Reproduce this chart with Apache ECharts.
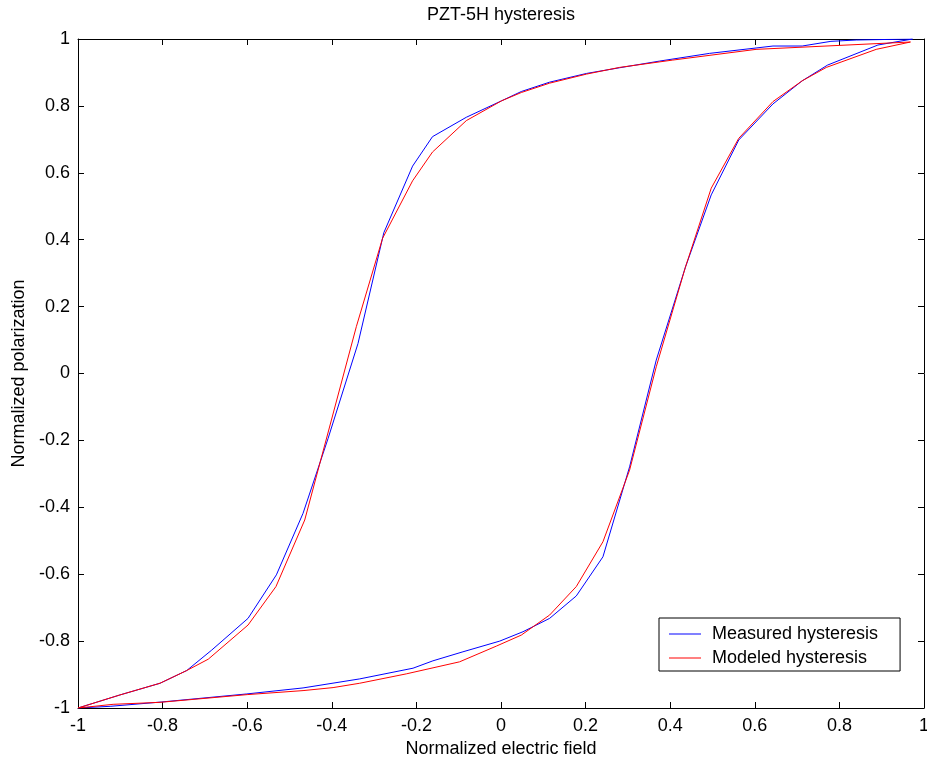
<!DOCTYPE html>
<html>
<head>
<meta charset="utf-8">
<title>PZT-5H hysteresis</title>
<script src="https://cdn.jsdelivr.net/npm/echarts@6/dist/echarts.min.js"></script>
<style>
  html, body { margin: 0; padding: 0; background: #fff; }
  #chart { width: 927px; height: 759px; }
</style>
</head>
<body>
<div id="chart"></div>
<script>
// Measured loop: ascending branch (low side) followed by descending branch (high side)
const measuredE = [
  -1, -0.924, -0.802, -0.601, -0.468, -0.334, -0.208, -0.161, -0.090, -0.003,
  0.052, 0.115, 0.178, 0.241, 0.304, 0.367, 0.436, 0.497, 0.562, 0.643,
  0.712, 0.772, 0.891, 0.973,
  0.84, 0.78, 0.712, 0.643, 0.493, 0.375, 0.280, 0.202, 0.115, 0.048,
  0.001, -0.082, -0.162, -0.209, -0.277, -0.338, -0.409, -0.468, -0.531, -0.598,
  -0.684, -0.743, -0.806, -0.901, -1
];
const measuredP = [
  -1, -0.995, -0.982, -0.958, -0.940, -0.913, -0.881, -0.859, -0.832, -0.800,
  -0.772, -0.732, -0.665, -0.548, -0.279, 0.040, 0.318, 0.534, 0.698, 0.806,
  0.875, 0.922, 0.982, 1.0,
  0.997, 0.993, 0.979, 0.979, 0.957, 0.934, 0.914, 0.897, 0.871, 0.843,
  0.815, 0.766, 0.708, 0.620, 0.421, 0.090, -0.195, -0.418, -0.602, -0.732,
  -0.827, -0.888, -0.926, -0.961, -1
];

// Modeled loop, same traversal order
const modeledE = [
  -1, -0.917, -0.806, -0.600, -0.468, -0.397, -0.334, -0.224, -0.098, -0.011,
  0.048, 0.115, 0.178, 0.241, 0.304, 0.367, 0.436, 0.497, 0.562, 0.643,
  0.712, 0.769, 0.887, 0.968,
  0.603, 0.406, 0.280, 0.202, 0.115, 0.048, 0.001, -0.082, -0.162, -0.209,
  -0.280, -0.342, -0.464, -0.532, -0.598, -0.692, -0.743, -0.806, -0.901, -1
];
const modeledP = [
  -1, -0.989, -0.983, -0.960, -0.948, -0.939, -0.926, -0.898, -0.862, -0.815,
  -0.782, -0.722, -0.637, -0.503, -0.289, 0.020, 0.318, 0.554, 0.703, 0.813,
  0.875, 0.915, 0.969, 0.991,
  0.969, 0.937, 0.915, 0.895, 0.868, 0.840, 0.815, 0.756, 0.662, 0.576,
  0.404, 0.140, -0.438, -0.637, -0.752, -0.854, -0.888, -0.926, -0.961, -1
];

const seriesNames = ['Measured hysteresis', 'Modeled hysteresis'];
const chartTitle = 'PZT-5H hysteresis';
const xLabel = 'Normalized electric field';
const yLabel = 'Normalized polarization';

const pairs = (xs, ys) => xs.map((x, i) => [x, ys[i]]);

const FONT = 'Liberation Sans, Arial, Helvetica, sans-serif';
const GRID = { left: 78, right: 3, top: 39, bottom: 51, containLabel: false, outerBoundsMode: 'none' };

const baseAxis = {
  type: 'value', min: -1, max: 1, interval: 0.2,
  axisLine: { show: true, onZero: false, lineStyle: { color: '#000', width: 1 } },
  axisTick: { show: true, inside: true, length: 6, lineStyle: { color: '#000' } },
  splitLine: { show: false }
};
const labelStyle = { color: '#000', fontSize: 18, fontFamily: FONT };

const chart = echarts.init(document.getElementById('chart'), null, { renderer: 'canvas' });
chart.setOption({
  animation: false,
  backgroundColor: '#fff',
  grid: GRID,
  graphic: [{
    type: 'text', x: (GRID.left + 927 - GRID.right) / 2, y: 15,
    style: { text: chartTitle, fill: '#000', font: '18px ' + FONT, textAlign: 'center', textVerticalAlign: 'middle' }
  }],
  xAxis: [
    Object.assign({}, baseAxis, {
      position: 'bottom',
      axisLabel: Object.assign({ margin: 9 }, labelStyle),
      name: xLabel, nameLocation: 'middle', nameGap: 27,
      nameTextStyle: labelStyle
    }),
    Object.assign({}, baseAxis, { position: 'top', axisLabel: { show: false } })
  ],
  yAxis: [
    Object.assign({}, baseAxis, {
      position: 'left',
      axisLabel: Object.assign({ margin: 8 }, labelStyle),
      name: yLabel, nameLocation: 'middle', nameGap: 50, nameRotate: 90,
      nameTextStyle: labelStyle
    }),
    Object.assign({}, baseAxis, { position: 'right', axisLabel: { show: false } })
  ],
  legend: {
    orient: 'vertical', left: 659, top: 618,
    padding: [7, 22, 4, 10], itemGap: 6, itemWidth: 32, itemHeight: 1,
    icon: 'rect',
    backgroundColor: '#fff', borderColor: '#000', borderWidth: 1, borderRadius: 0,
    textStyle: { color: '#000', fontSize: 18, lineHeight: 17, fontFamily: FONT, padding: [0, 0, 0, 6] },
    data: seriesNames
  },
  series: [
    {
      name: seriesNames[0], type: 'line', data: pairs(measuredE, measuredP),
      symbol: 'none', smooth: false, lineStyle: { color: '#0000ff', width: 1 },
      itemStyle: { color: '#0000ff' }
    },
    {
      name: seriesNames[1], type: 'line', data: pairs(modeledE, modeledP),
      symbol: 'none', smooth: false, lineStyle: { color: '#ff0000', width: 1 },
      itemStyle: { color: '#ff0000' }
    }
  ]
});
</script>
</body>
</html>
